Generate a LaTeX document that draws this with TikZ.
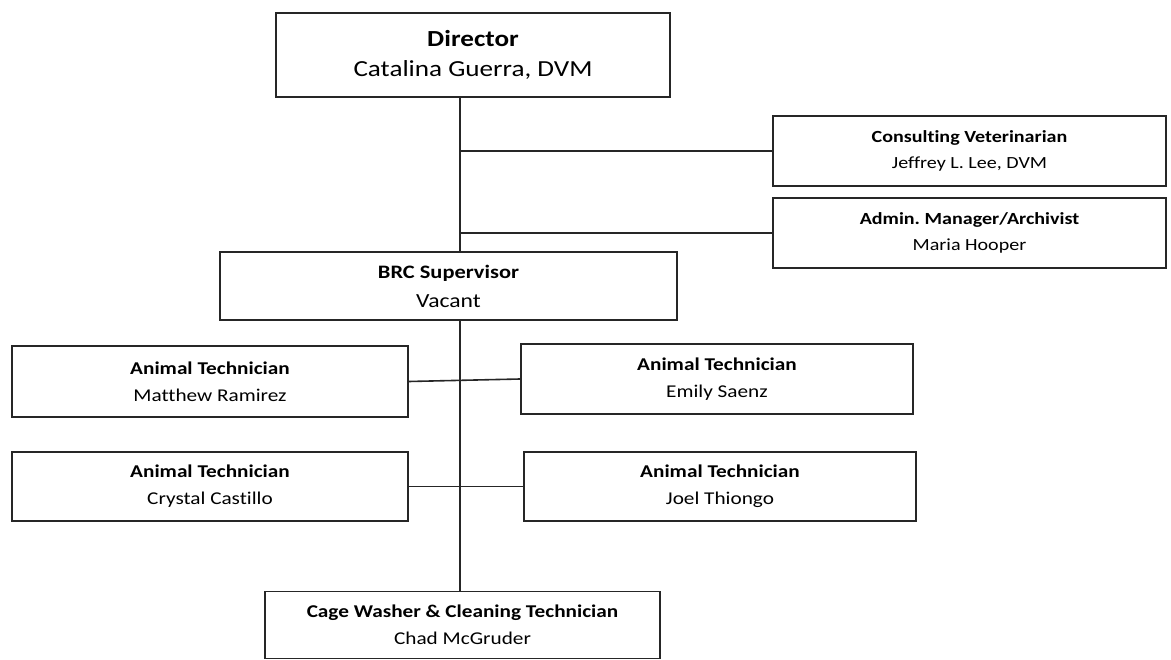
\documentclass[tikz,border=0pt]{standalone}
\usepackage{fontspec}
\setmainfont{Carlito}[FakeStretch=1.18,Ligatures=NoCommon]
\frenchspacing
\begin{document}
\begin{tikzpicture}[x=1pt,y=-1pt,
  orgbox/.style={draw=black!85,fill=white,line width=1.6pt,inner sep=0pt,align=center,
    font=\fontsize{18}{27}\selectfont},
  small/.style={font=\fontsize{17}{26}\selectfont},
  link/.style={draw=black!85,line width=1.6pt}]
\useasboundingbox (0,0) rectangle (1171,660);
\node[orgbox,minimum width=394pt,minimum height=84pt,font=\fontsize{23}{30}\selectfont] (dir) at (473,55)
  {\textbf{Director}\\Catalina Guerra, DVM};
\node[orgbox,small,minimum width=393pt,minimum height=70pt] (cons) at (969.5,151)
  {\textbf{Consulting Veterinarian}\\Jeffrey L. Lee, DVM};
\node[orgbox,small,minimum width=393pt,minimum height=70pt] (adm) at (969.5,233)
  {\textbf{Admin. Manager/Archivist}\\Maria Hooper};
\node[orgbox,minimum width=457pt,minimum height=68pt,font=\fontsize{19}{29}\selectfont] (brc) at (448.5,286)
  {\textbf{BRC Supervisor}\\{\fontsize{20}{29}\selectfont Vacant}};
\node[orgbox,minimum width=396pt,minimum height=71pt] (mat) at (210,381.5)
  {\textbf{Animal Technician}\\Matthew Ramirez};
\node[orgbox,minimum width=392pt,minimum height=70pt] (emi) at (717,379)
  {\textbf{Animal Technician}\\Emily Saenz};
\node[orgbox,minimum width=396pt,minimum height=69pt] (cry) at (210,486.5)
  {\textbf{Animal Technician}\\Crystal Castillo};
\node[orgbox,minimum width=392pt,minimum height=69pt] (joe) at (720,486.5)
  {\textbf{Animal Technician}\\Joel Thiongo};
\node[orgbox,minimum width=395pt,minimum height=67pt] (cage) at (462.5,625)
  {\textbf{Cage Washer \& Cleaning Technician}\\Chad McGruder};
\coordinate (spine) at (460,97);
\draw[link] (spine) -- (spine |- brc.north);
\draw[link] (spine |- brc.south) -- (spine |- cage.north);
\draw[link] (spine |- cons.west) -- (cons.west);
\draw[link] (spine |- adm.west) -- (adm.west);
\draw[link] (mat.east) -- (emi.west);
\draw[link] (cry.east) -- (joe.west);
\end{tikzpicture}
\end{document}
